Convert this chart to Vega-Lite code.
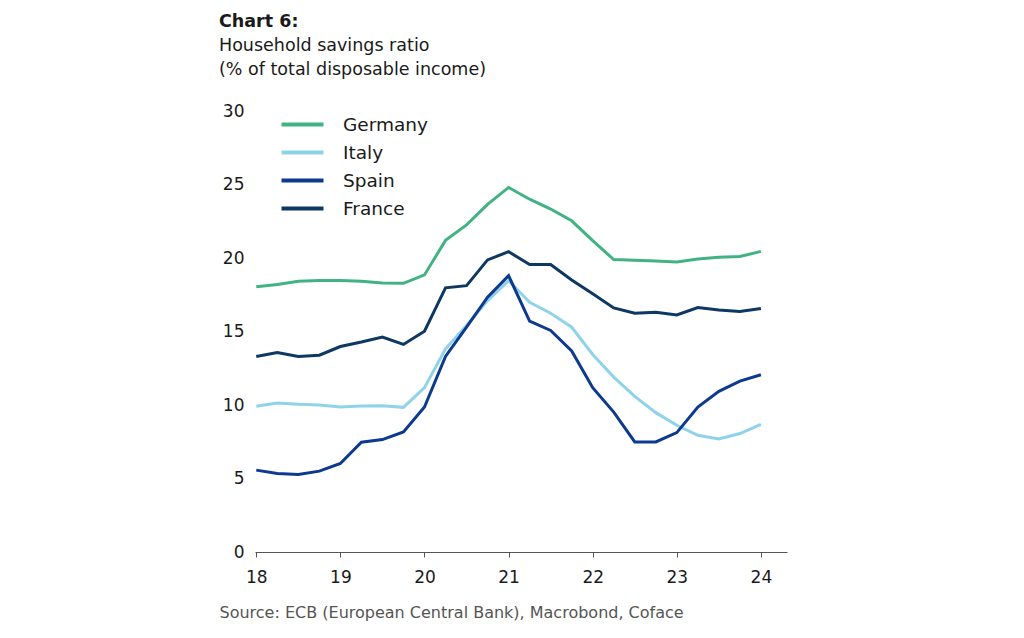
{
  "$schema": "https://vega.github.io/schema/vega-lite/v6.json",
  "width": 532,
  "height": 441,
  "autosize": {"type": "none"},
  "padding": {"left": 255, "top": 111, "right": 237, "bottom": 86},
  "background": "white",
  "title": {
    "text": "Chart 6:",
    "subtitle": ["Household savings ratio", "(% of total disposable income)"],
    "anchor": "start",
    "frame": "group",
    "dx": -36,
    "offset": 24,
    "font": "DejaVu Sans",
    "fontSize": 17.5,
    "fontWeight": "bold",
    "color": "#1a1a1a",
    "subtitleFont": "DejaVu Sans",
    "subtitleFontSize": 17.5,
    "subtitleColor": "#1a1a1a",
    "subtitleLineHeight": 24,
    "subtitlePadding": 6
  },
  "data": {
    "values": [
      {"t": 18.0, "c": "Germany", "v": 18.05}, {"t": 18.25, "c": "Germany", "v": 18.2}, {"t": 18.5, "c": "Germany", "v": 18.42}, {"t": 18.75, "c": "Germany", "v": 18.47}, {"t": 19.0, "c": "Germany", "v": 18.47}, {"t": 19.25, "c": "Germany", "v": 18.42}, {"t": 19.5, "c": "Germany", "v": 18.3}, {"t": 19.75, "c": "Germany", "v": 18.28}, {"t": 20.0, "c": "Germany", "v": 18.85}, {"t": 20.25, "c": "Germany", "v": 21.2}, {"t": 20.5, "c": "Germany", "v": 22.25}, {"t": 20.75, "c": "Germany", "v": 23.65}, {"t": 21.0, "c": "Germany", "v": 24.8}, {"t": 21.25, "c": "Germany", "v": 24.0}, {"t": 21.5, "c": "Germany", "v": 23.33}, {"t": 21.75, "c": "Germany", "v": 22.53}, {"t": 22.0, "c": "Germany", "v": 21.18}, {"t": 22.25, "c": "Germany", "v": 19.89}, {"t": 22.5, "c": "Germany", "v": 19.84}, {"t": 22.75, "c": "Germany", "v": 19.8}, {"t": 23.0, "c": "Germany", "v": 19.73}, {"t": 23.25, "c": "Germany", "v": 19.93}, {"t": 23.5, "c": "Germany", "v": 20.05}, {"t": 23.75, "c": "Germany", "v": 20.1}, {"t": 24.0, "c": "Germany", "v": 20.45},
      {"t": 18.0, "c": "Italy", "v": 9.91}, {"t": 18.25, "c": "Italy", "v": 10.14}, {"t": 18.5, "c": "Italy", "v": 10.05}, {"t": 18.75, "c": "Italy", "v": 10.0}, {"t": 19.0, "c": "Italy", "v": 9.86}, {"t": 19.25, "c": "Italy", "v": 9.93}, {"t": 19.5, "c": "Italy", "v": 9.95}, {"t": 19.75, "c": "Italy", "v": 9.84}, {"t": 20.0, "c": "Italy", "v": 11.18}, {"t": 20.25, "c": "Italy", "v": 13.82}, {"t": 20.5, "c": "Italy", "v": 15.41}, {"t": 20.75, "c": "Italy", "v": 17.1}, {"t": 21.0, "c": "Italy", "v": 18.46}, {"t": 21.25, "c": "Italy", "v": 16.99}, {"t": 21.5, "c": "Italy", "v": 16.24}, {"t": 21.75, "c": "Italy", "v": 15.29}, {"t": 22.0, "c": "Italy", "v": 13.44}, {"t": 22.25, "c": "Italy", "v": 11.9}, {"t": 22.5, "c": "Italy", "v": 10.59}, {"t": 22.75, "c": "Italy", "v": 9.48}, {"t": 23.0, "c": "Italy", "v": 8.62}, {"t": 23.25, "c": "Italy", "v": 7.94}, {"t": 23.5, "c": "Italy", "v": 7.69}, {"t": 23.75, "c": "Italy", "v": 8.06}, {"t": 24.0, "c": "Italy", "v": 8.69},
      {"t": 18.0, "c": "Spain", "v": 5.57}, {"t": 18.25, "c": "Spain", "v": 5.34}, {"t": 18.5, "c": "Spain", "v": 5.27}, {"t": 18.75, "c": "Spain", "v": 5.5}, {"t": 19.0, "c": "Spain", "v": 6.02}, {"t": 19.25, "c": "Spain", "v": 7.47}, {"t": 19.5, "c": "Spain", "v": 7.65}, {"t": 19.75, "c": "Spain", "v": 8.17}, {"t": 20.0, "c": "Spain", "v": 9.86}, {"t": 20.25, "c": "Spain", "v": 13.3}, {"t": 20.5, "c": "Spain", "v": 15.29}, {"t": 20.75, "c": "Spain", "v": 17.33}, {"t": 21.0, "c": "Spain", "v": 18.8}, {"t": 21.25, "c": "Spain", "v": 15.7}, {"t": 21.5, "c": "Spain", "v": 15.07}, {"t": 21.75, "c": "Spain", "v": 13.67}, {"t": 22.0, "c": "Spain", "v": 11.18}, {"t": 22.25, "c": "Spain", "v": 9.52}, {"t": 22.5, "c": "Spain", "v": 7.49}, {"t": 22.75, "c": "Spain", "v": 7.49}, {"t": 23.0, "c": "Spain", "v": 8.12}, {"t": 23.25, "c": "Spain", "v": 9.86}, {"t": 23.5, "c": "Spain", "v": 10.93}, {"t": 23.75, "c": "Spain", "v": 11.63}, {"t": 24.0, "c": "Spain", "v": 12.06},
      {"t": 18.0, "c": "France", "v": 13.3}, {"t": 18.25, "c": "France", "v": 13.57}, {"t": 18.5, "c": "France", "v": 13.3}, {"t": 18.75, "c": "France", "v": 13.39}, {"t": 19.0, "c": "France", "v": 13.98}, {"t": 19.25, "c": "France", "v": 14.28}, {"t": 19.5, "c": "France", "v": 14.62}, {"t": 19.75, "c": "France", "v": 14.12}, {"t": 20.0, "c": "France", "v": 15.02}, {"t": 20.25, "c": "France", "v": 17.97}, {"t": 20.5, "c": "France", "v": 18.12}, {"t": 20.75, "c": "France", "v": 19.87}, {"t": 21.0, "c": "France", "v": 20.43}, {"t": 21.25, "c": "France", "v": 19.55}, {"t": 21.5, "c": "France", "v": 19.55}, {"t": 21.75, "c": "France", "v": 18.5}, {"t": 22.0, "c": "France", "v": 17.56}, {"t": 22.25, "c": "France", "v": 16.6}, {"t": 22.5, "c": "France", "v": 16.24}, {"t": 22.75, "c": "France", "v": 16.31}, {"t": 23.0, "c": "France", "v": 16.13}, {"t": 23.25, "c": "France", "v": 16.63}, {"t": 23.5, "c": "France", "v": 16.47}, {"t": 23.75, "c": "France", "v": 16.36}, {"t": 24.0, "c": "France", "v": 16.56}
    ]
  },
  "mark": {"type": "line", "strokeWidth": 3, "strokeJoin": "miter"},
  "encoding": {
    "x": {
      "field": "t",
      "type": "quantitative",
      "scale": {"domain": [17.985, 24.31], "nice": false, "zero": false},
      "axis": {
        "values": [18, 19, 20, 21, 22, 23, 24],
        "format": "d",
        "grid": false,
        "domainColor": "#555555",
        "domainWidth": 1,
        "tickColor": "#555555",
        "tickSize": 5,
        "labelPadding": 12,
        "labelFont": "DejaVu Sans",
        "labelFontSize": 17,
        "labelFontWeight": 500,
        "labelColor": "#1a1a1a",
        "title": "Source: ECB (European Central Bank), Macrobond, Coface",
        "titleFont": "DejaVu Sans",
        "titleFontSize": 16,
        "titleFontWeight": "normal",
        "titleColor": "#555555",
        "titleAnchor": "start",
        "titleAlign": "left",
        "titleBaseline": "middle",
        "titleX": -36,
        "titleY": 60
      }
    },
    "y": {
      "field": "v",
      "type": "quantitative",
      "scale": {"domain": [0, 30], "nice": false},
      "axis": {
        "values": [0, 5, 10, 15, 20, 25, 30],
        "grid": false,
        "domain": false,
        "ticks": false,
        "labelPadding": 11,
        "labelFont": "DejaVu Sans",
        "labelFontSize": 17,
        "labelColor": "#1a1a1a",
        "title": null
      }
    },
    "color": {
      "field": "c",
      "type": "nominal",
      "sort": ["Germany", "Italy", "Spain", "France"],
      "scale": {
        "domain": ["Germany", "Italy", "Spain", "France"],
        "range": ["#41b383", "#8fd3ea", "#0d3a8f", "#0c3862"]
      },
      "legend": {
        "title": null,
        "orient": "none",
        "legendX": 35,
        "legendY": 1,
        "symbolType": "M-2,0H2",
        "symbolSize": 441,
        "symbolStrokeWidth": 4,
        "symbolStrokeCap": "round",
        "labelFont": "DejaVu Sans",
        "labelFontSize": 18.5,
        "labelColor": "#1a1a1a",
        "labelOffset": 28,
        "rowPadding": 6,
        "symbolLimit": 0
      }
    }
  },
  "config": {"view": {"stroke": null}}
}
